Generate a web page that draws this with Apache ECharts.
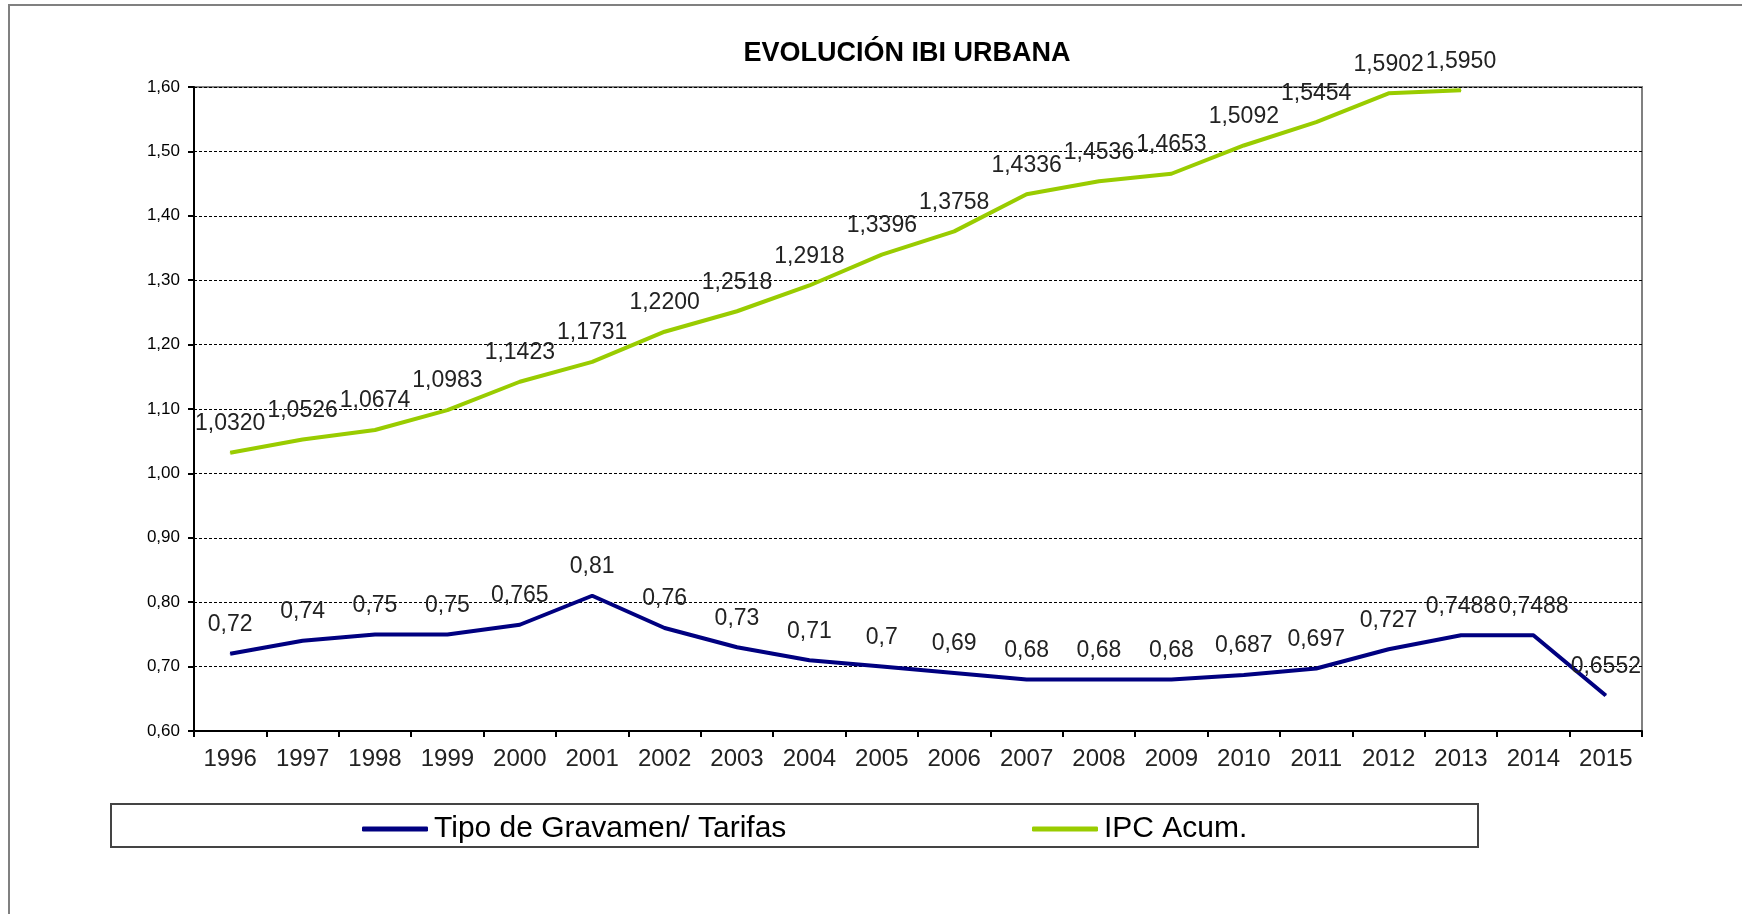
<!DOCTYPE html>
<html>
<head>
<meta charset="utf-8">
<title>Evolución IBI Urbana</title>
<script src="https://cdn.jsdelivr.net/npm/echarts@6/dist/echarts.min.js"></script>
<style>
	html, body { margin: 0; padding: 0; background: #fff; }
	#chart { width: 1742px; height: 914px; }
</style>
</head>
<body>
<div id="chart"></div>
<script>
// años del eje X
var years = ['1996', '1997', '1998', '1999', '2000', '2001', '2002', '2003', '2004', '2005',
	'2006', '2007', '2008', '2009', '2010', '2011', '2012', '2013', '2014', '2015'];

// Tipo de Gravamen / Tarifas
var tipoGravamen = [0.72, 0.74, 0.75, 0.75, 0.765, 0.81, 0.76, 0.73, 0.71, 0.7,
	0.69, 0.68, 0.68, 0.68, 0.687, 0.697, 0.727, 0.7488, 0.7488, 0.6552];

// IPC acumulado (sin dato en 2014 y 2015)
var ipcAcum = [1.0320, 1.0526, 1.0674, 1.0983, 1.1423, 1.1731, 1.2200, 1.2518, 1.2918, 1.3396,
	1.3758, 1.4336, 1.4536, 1.4653, 1.5092, 1.5454, 1.5902, 1.5950, null, null];

var seriesNames = ['Tipo de Gravamen/ Tarifas', 'IPC Acum.'];
var yMin = 0.6, yMax = 1.6, yStep = 0.1;

var font = '"Liberation Sans", Arial, sans-serif';
var comma = function (s) { return String(s).replace('.', ','); };

var myChart = echarts.init(document.getElementById('chart'));

var labelStyle = {
	show: true,
	position: 'top',
	distance: 17,
	fontFamily: font,
	fontSize: 23,
	color: '#222'
};

var legendText = { fontFamily: font, fontSize: 30, color: '#000', padding: [0, 0, 0, 1] };

var option = {
	backgroundColor: '#fff',
	animation: false,
	title: {
		text: 'EVOLUCIÓN IBI URBANA',
		left: 902,
		textAlign: 'center',
		top: 35,
		textStyle: {
			fontFamily: font,
			fontSize: 27,
			fontWeight: 'bold',
			color: '#000'
		}
	},
	graphic: [
		{
			type: 'rect',
			shape: { x: 9, y: 5, width: 1800, height: 1000 },
			style: { fill: 'none', stroke: '#808080', lineWidth: 2 },
			silent: true,
			z: -1
		},
		{
			type: 'rect',
			shape: { x: 111, y: 804, width: 1367, height: 43 },
			style: { fill: 'none', stroke: '#444', lineWidth: 2 },
			silent: true
		}
	],
	legend: [
		{
			data: [seriesNames[0]],
			left: 357,
			top: 809,
			icon: 'roundRect',
			itemWidth: 66,
			itemHeight: 5,
			itemGap: 0,
			textStyle: legendText
		},
		{
			data: [seriesNames[1]],
			left: 1027,
			top: 809,
			icon: 'roundRect',
			itemWidth: 66,
			itemHeight: 5,
			itemGap: 0,
			textStyle: legendText
		}
	],
	grid: {
		left: 194,
		right: 100,
		top: 87,
		bottom: 183,
		show: true,
		borderColor: '#808080',
		borderWidth: 2,
		containLabel: false
	},
	xAxis: {
		type: 'category',
		data: years,
		boundaryGap: true,
		axisLine: { lineStyle: { color: '#000', width: 2 } },
		axisTick: { show: true, interval: 0, length: 6, lineStyle: { color: '#000', width: 2 } },
		axisLabel: {
			interval: 0,
			margin: 16,
			fontFamily: font,
			fontSize: 24,
			color: '#222'
		},
		splitLine: { show: false }
	},
	yAxis: {
		type: 'value',
		min: yMin,
		max: yMax,
		interval: yStep,
		axisLine: { show: true, lineStyle: { color: '#000', width: 2 } },
		axisTick: { show: true, length: 6, lineStyle: { color: '#000', width: 2 } },
		axisLabel: {
			margin: 14,
			fontFamily: font,
			fontSize: 17,
			color: '#000',
			formatter: function (v) { return comma(v.toFixed(2)); }
		},
		splitLine: { show: true, lineStyle: { color: '#000', width: 1, type: [3, 2] } }
	},
	series: [
		{
			name: seriesNames[0],
			type: 'line',
			data: tipoGravamen,
			symbol: 'circle',
			symbolSize: 1,
			color: '#000080',
			lineStyle: { width: 4, color: '#000080' },
			label: Object.assign({}, labelStyle, {
				formatter: function (p) { return comma(p.value); }
			}),
			z: 3
		},
		{
			name: seriesNames[1],
			type: 'line',
			data: ipcAcum,
			symbol: 'circle',
			symbolSize: 1,
			color: '#99cc00',
			lineStyle: { width: 4, color: '#99cc00' },
			label: Object.assign({}, labelStyle, {
				formatter: function (p) { return comma(p.value.toFixed(4)); }
			}),
			z: 3
		}
	]
};

myChart.setOption(option);
</script>
</body>
</html>
